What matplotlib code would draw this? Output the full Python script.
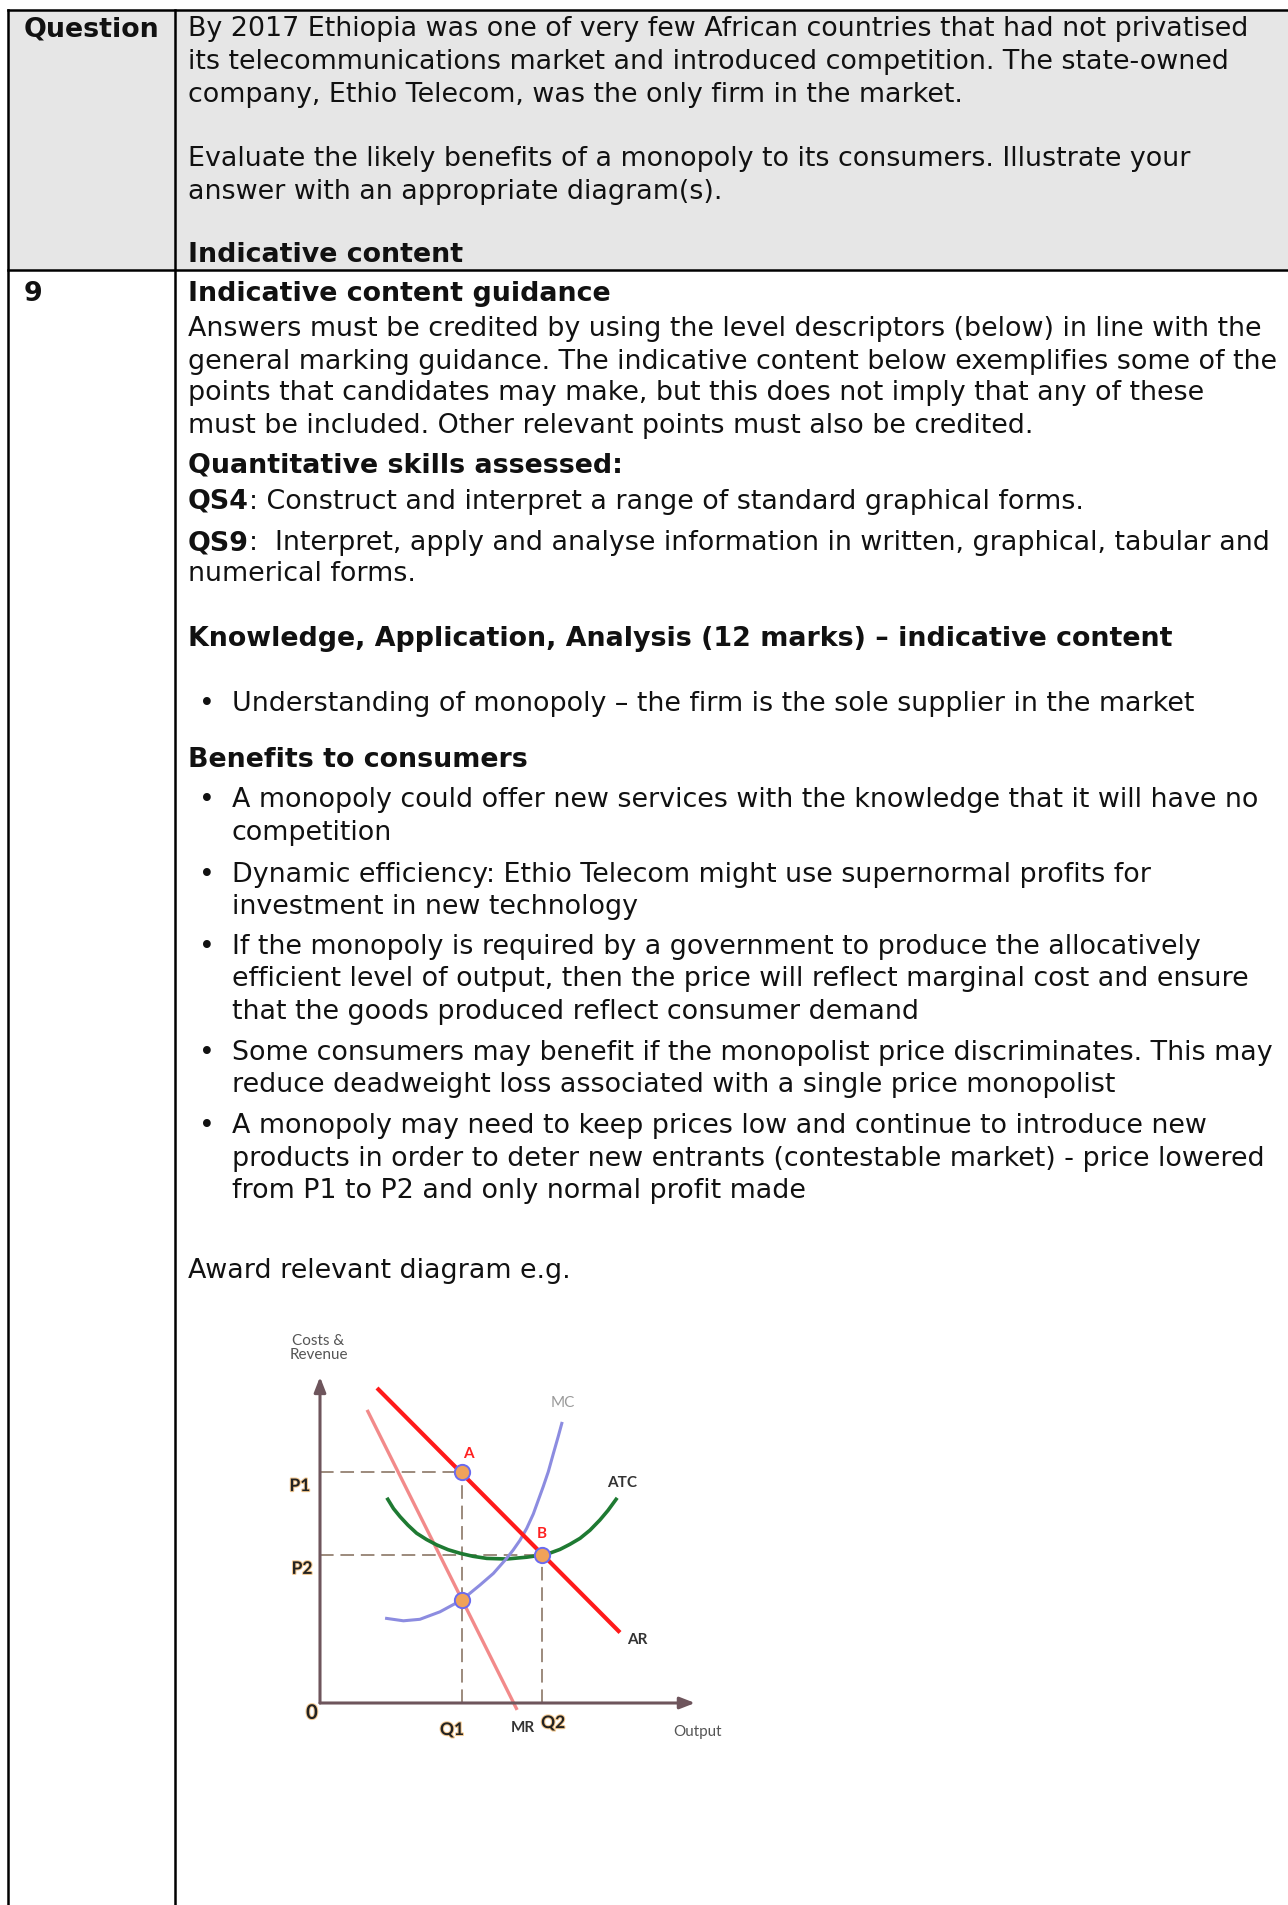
import numpy as np
import matplotlib.pyplot as plt
from matplotlib.patches import Rectangle
import matplotlib.patheffects as pe

W, H = 1288, 1905
FS = 19.35
INK = '#111111'

# ---- page text ----
header_lines = [
    "By 2017 Ethiopia was one of very few African countries that had not privatised",
    "its telecommunications market and introduced competition. The state-owned",
    "company, Ethio Telecom, was the only firm in the market.",
    "Evaluate the likely benefits of a monopoly to its consumers. Illustrate your",
    "answer with an appropriate diagram(s).",
]
header_y = [36, 69, 102, 166, 199]

guidance_lines = [
    "Answers must be credited by using the level descriptors (below) in line with the",
    "general marking guidance. The indicative content below exemplifies some of the",
    "points that candidates may make, but this does not imply that any of these",
    "must be included. Other relevant points must also be credited.",
]
guidance_y = [336, 369, 400, 433]

bullets_benefits = [
    ["A monopoly could offer new services with the knowledge that it will have no",
     "competition"],
    ["Dynamic efficiency: Ethio Telecom might use supernormal profits for",
     "investment in new technology"],
    ["If the monopoly is required by a government to produce the allocatively",
     "efficient level of output, then the price will reflect marginal cost and ensure",
     "that the goods produced reflect consumer demand"],
    ["Some consumers may benefit if the monopolist price discriminates. This may",
     "reduce deadweight loss associated with a single price monopolist"],
    ["A monopoly may need to keep prices low and continue to introduce new",
     "products in order to deter new entrants (contestable market) - price lowered",
     "from P1 to P2 and only normal profit made"],
]
bullets_y = [807, 882, 954, 1060, 1133]
line_gap = 32.5

# ---- diagram data ----
ar_q = [1.9, 10.0]
ar_p = [10.5, 2.35]
mr_q = [1.57, 6.57]
mr_p = [9.77, -0.23]
mc_q = [2.22, 2.78, 3.33, 4.0, 4.72, 5.33, 5.78, 6.22, 6.44, 6.67, 6.89, 7.11,
        7.28, 7.44, 7.61, 7.78, 7.94, 8.06]
mc_c = [2.82, 2.74, 2.79, 3.04, 3.43, 3.93, 4.32, 4.82, 5.1, 5.43, 5.82, 6.3,
        6.77, 7.21, 7.71, 8.32, 8.88, 9.32]
atc_q = [2.26, 2.45, 2.67, 2.93, 3.22, 3.55, 3.89, 4.27, 4.67, 5.1, 5.56, 6.22,
         6.89, 7.39, 7.7, 8.0, 8.33, 8.67, 9.0, 9.33, 9.6, 9.87]
atc_c = [6.79, 6.48, 6.21, 5.93, 5.66, 5.45, 5.27, 5.11, 4.99, 4.89, 4.82, 4.80,
         4.86, 4.93, 5.01, 5.12, 5.29, 5.49, 5.76, 6.1, 6.42, 6.79]
Q1, Q2 = 4.72, 7.4
P1, P2 = 7.7, 4.93
pts_q = [Q1, Q2, Q1]
pts_p = [P1, P2, 3.43]

fig = plt.figure(figsize=(W / 100, H / 100), dpi=100)
ax = fig.add_axes([0, 0, 1, 1])
ax.set_xlim(0, W)
ax.set_ylim(H, 0)
ax.axis('off')

# table frame
ax.add_patch(Rectangle((8.5, 10), W - 8.5, 260, facecolor='#e6e6e6', edgecolor='none'))
lw = 1.8
ax.plot([8.5, W], [10, 10], color='black', lw=lw)
ax.plot([8.5, W], [270, 270], color='black', lw=lw)
ax.plot([8.5, 8.5], [10, H], color='black', lw=lw)
ax.plot([175, 175], [10, H], color='black', lw=lw)

def txt(x, y, s, bold=False):
    return ax.text(x, y, s, fontsize=FS, fontweight='bold' if bold else 'normal',
                   color=INK, va='baseline', ha='left', family='DejaVu Sans')

renderer = fig.canvas.get_renderer()

def mixed(x, y, b, r):
    t = txt(x, y, b, bold=True)
    bb = t.get_window_extent(renderer=renderer)
    txt(x + bb.width, y, r)

TX = 188
txt(24, 36, "Question", bold=True)
for s, y in zip(header_lines, header_y):
    txt(TX, y, s)
txt(TX, 262, "Indicative content", bold=True)

txt(24, 301, "9", bold=True)
txt(TX, 301, "Indicative content guidance", bold=True)
for s, y in zip(guidance_lines, guidance_y):
    txt(TX, y, s)
txt(TX, 473, "Quantitative skills assessed:", bold=True)
mixed(TX, 509, "QS4", ": Construct and interpret a range of standard graphical forms.")
mixed(TX, 550, "QS9", ":  Interpret, apply and analyse information in written, graphical, tabular and")
txt(TX, 581, "numerical forms.")
txt(TX, 646, "Knowledge, Application, Analysis (12 marks) \u2013 indicative content", bold=True)

BX, BT = 199, 232
txt(BX, 711, "\u2022")
txt(BT, 711, "Understanding of monopoly \u2013 the firm is the sole supplier in the market")
txt(TX, 767, "Benefits to consumers", bold=True)
for lines, y0 in zip(bullets_benefits, bullets_y):
    txt(BX, y0, "\u2022")
    for i, s in enumerate(lines):
        txt(BT, y0 + i * line_gap, s)
txt(TX, 1278, "Award relevant diagram e.g.")

# ---- diagram ----
dx = fig.add_axes([245 / W, (H - 1778) / H, 495 / W, 465 / H])
dx.set_xlim(-2.5, 14)
dx.set_ylim(-2.5, 13)
dx.axis('off')

dash = dict(color='#9c8a7c', lw=1.4, dashes=(7, 3.5))
dx.plot([0, Q1], [P1, P1], **dash)
dx.plot([0, Q2], [P2, P2], **dash)
dx.plot([Q1, Q1], [0, P1], **dash)
dx.plot([Q2, Q2], [0, P2], **dash)

axis_col = '#6e555c'
arr = dict(arrowstyle='-|>,head_length=0.9,head_width=0.35', color=axis_col, lw=2.2,
           shrinkA=0, shrinkB=0)
dx.annotate('', xy=(12.5, 0), xytext=(0, 0), arrowprops=arr)
dx.annotate('', xy=(0, 10.87), xytext=(0, 0), arrowprops=arr)

dx.plot(mr_q, mr_p, color='#f28a8a', lw=2.4, solid_capstyle='butt')
dx.plot(atc_q, atc_c, color='#1e7a32', lw=2.6, solid_joinstyle='round')
dx.plot(mc_q, mc_c, color='#8c8ce0', lw=2.2, solid_joinstyle='round')
dx.plot(ar_q, ar_p, color='#ff1a1a', lw=3.0, solid_capstyle='butt')
dx.plot(pts_q, pts_p, 'o', ms=11, mfc='#f0a25a', mec='#6a6af0', mew=1.4, ls='none')

lab = dict(family='Lato', fontsize=11, ha='center', va='center')
big = dict(family='Lato', fontsize=12.5, ha='center', va='center', fontweight='bold')
glow = [pe.withStroke(linewidth=1.5, foreground='#f3c890')]
dx.text(-0.05, 11.83, "Costs &\nRevenue", color='#555555', linespacing=0.95, **lab)
dx.text(8.1, 10.0, "MC", color='#9a9a9a', **lab)
dx.text(4.93, 8.3, "A", color='#ff2020', fontweight='bold', **lab)
dx.text(7.4, 5.63, "B", color='#ff2020', fontweight='bold', **lab)
dx.text(10.07, 7.33, "ATC", color='#333333', fontweight='bold', **lab)
dx.text(10.57, 2.1, "AR", color='#333333', fontweight='bold', **lab)
dx.text(-0.67, 7.23, "P1", color='#222222', path_effects=glow, **big)
dx.text(-0.6, 4.47, "P2", color='#222222', path_effects=glow, **big)
dx.text(-0.27, -0.33, "0", color='#222222', path_effects=glow,
        family='Lato', fontsize=14.5, fontweight='bold', ha='center', va='center')
dx.text(4.4, -0.9, "Q1", color='#222222', path_effects=glow, **big)
dx.text(6.77, -0.83, "MR", color='#333333', fontweight='bold', **lab)
dx.text(7.77, -0.67, "Q2", color='#222222', path_effects=glow, **big)
dx.text(12.6, -0.97, "Output", color='#555555', **lab)

fig.savefig('out.png', dpi=100)
plt.close(fig)
